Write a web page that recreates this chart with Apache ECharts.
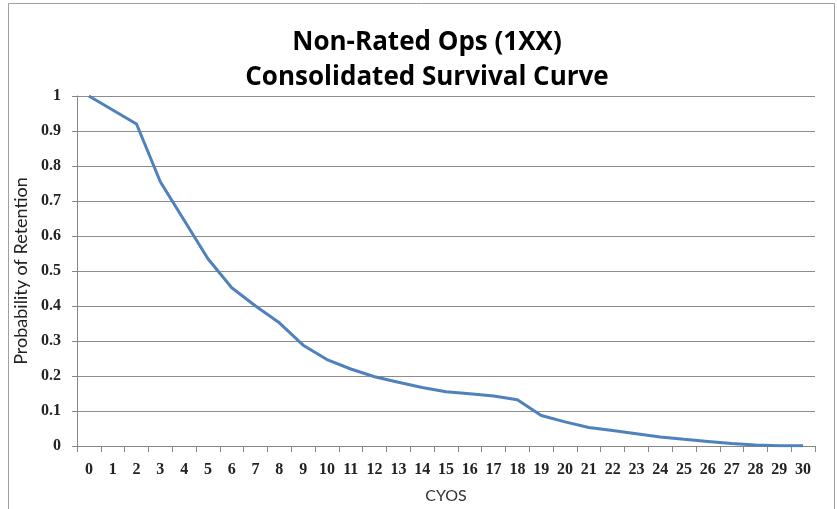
<!DOCTYPE html>
<html><head><meta charset="utf-8">
<script src="https://cdn.jsdelivr.net/npm/echarts@6/dist/echarts.min.js"></script>
<style>html,body{margin:0;padding:0;background:#fff}#c{width:837px;height:509px}</style>
</head><body><div id="c"></div>
<script>
var titleLines = ["Non-Rated Ops (1XX)", "Consolidated Survival Curve"];
var xName = "CYOS";
var yName = "Probability of Retention";
var categories = ["0","1","2","3","4","5","6","7","8","9","10","11","12","13","14","15","16","17","18","19","20","21","22","23","24","25","26","27","28","29","30"];
var retention = [1.0,0.96,0.92,0.755,0.645,0.535,0.452,0.4,0.352,0.288,0.247,0.22,0.198,0.182,0.167,0.155,0.149,0.143,0.132,0.087,0.069,0.053,0.044,0.035,0.026,0.019,0.013,0.007,0.003,0.001,0.001];

var chart = echarts.init(document.getElementById('c'), null, {renderer:'canvas'});
chart.setOption({
  animation:false,
  backgroundColor:'#fff',
  graphic:[{type:'rect', shape:{x:8.5,y:3.5,width:826,height:520}, style:{fill:'none', stroke:'#a0a0a0', lineWidth:1}, silent:true}],
  title:{text:titleLines.join('\n'), left:422, top:20, textAlign:'center',
    textStyle:{fontFamily:'Open Sans', fontWeight:'bold', fontSize:26, lineHeight:35, color:'#000'}},
  grid:{left:77, right:22, top:96, bottom:55, containLabel:false},
  xAxis:{type:'category', data:categories, boundaryGap:true, name:xName, nameLocation:'middle', nameGap:42,
    nameTextStyle:{fontFamily:'Lato', fontSize:16, color:'#333'},
    axisLine:{lineStyle:{color:'#868686', width:1}},
    axisTick:{show:true, length:6, lineStyle:{color:'#868686'}},
    axisLabel:{fontFamily:'Liberation Serif', fontWeight:'bold', fontSize:16, color:'#222', margin:16, interval:0}},
  yAxis:{type:'value', min:0, max:1, interval:0.1, name:yName, nameLocation:'middle', nameGap:42, nameRotate:90,
    nameTextStyle:{fontFamily:'Lato', fontSize:18, color:'#222'},
    axisLine:{show:true, lineStyle:{color:'#868686', width:1}},
    axisTick:{show:true, length:5, lineStyle:{color:'#868686'}},
    splitLine:{lineStyle:{color:'#8c8c8c', width:1}},
    axisLabel:{fontFamily:'Liberation Serif', fontWeight:'bold', fontSize:16, color:'#222', margin:16,
      formatter:function(v){return String(Math.round(v*10)/10);}}},
  series:[{type:'line', data:retention, showSymbol:false, smooth:false,
    lineStyle:{color:'#4f81bd', width:3}}]
});
</script></body></html>
